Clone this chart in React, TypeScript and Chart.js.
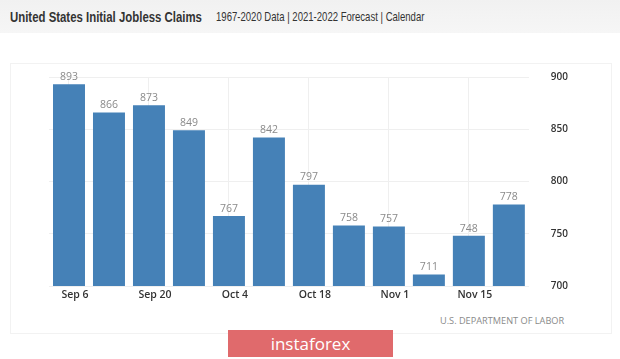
import React, { useEffect, useRef } from "react";
import { Chart, registerables } from "chart.js";

Chart.register(...registerables);

const weeks = ["Sep 6", "Sep 13", "Sep 20", "Sep 27", "Oct 4", "Oct 11", "Oct 18", "Oct 25", "Nov 1", "Nov 8", "Nov 15", "Nov 22"];
const claims = [893, 866, 873, 849, 767, 842, 797, 758, 757, 711, 748, 778];
const yTicks = [700, 750, 800, 850, 900];

const valueLabels = {
  id: "valueLabels",
  afterDatasetsDraw(chart: any) {
    const ctx = chart.ctx;
    const meta = chart.getDatasetMeta(0);
    ctx.save();
    ctx.fillStyle = "#8a8a8a";
    ctx.font = "10.5px 'Open Sans'";
    ctx.textAlign = "center";
    ctx.textBaseline = "bottom";
    meta.data.forEach((bar: any, i: number) => {
      ctx.fillText(String(claims[i]), bar.x, bar.y - 2);
    });
    ctx.restore();
  },
};

export default function App() {
  const ref = useRef<HTMLCanvasElement>(null);
  useEffect(() => {
    document.body.style.margin = "0";
    const chart = new Chart(ref.current!, {
      type: "bar",
      data: {
        labels: weeks,
        datasets: [
          {
            data: claims,
            backgroundColor: "#4581b7",
            categoryPercentage: 0.8,
            barPercentage: 1,
          },
        ],
      },
      options: {
        animation: false,
        responsive: false,
        layout: { padding: { left: 49, right: 30, top: 37, bottom: 0 } },
        plugins: { legend: { display: false }, tooltip: { enabled: false } },
        scales: {
          x: {
            grid: {
              offset: false,
              drawTicks: false,
              color: (c: any) => (c.index % 2 === 0 ? "#efefef" : "rgba(0,0,0,0)"),
            },
            border: { display: false },
            ticks: {
              autoSkip: false,
              maxRotation: 0,
              padding: 3,
              labelOffset: 6,
              color: "#333",
              font: { family: "'Open Sans'", size: 10.5, weight: "600" },
              callback: (v: any, i: number) => (i % 2 === 0 ? weeks[i] : ""),
            },
          },
          y: {
            position: "right",
            min: 700,
            max: 900,
            afterBuildTicks: (axis: any) => {
              axis.ticks = yTicks.map((v) => ({ value: v }));
            },
            grid: { drawTicks: false, color: "#efefef" },
            border: { display: false },
            ticks: {
              padding: 22,
              color: "#333",
              font: { family: "'Open Sans'", size: 10, weight: "600" },
            },
          },
        },
      },
      plugins: [valueLabels],
    });
    return () => chart.destroy();
  }, []);

  return (
    <div style={{ position: "relative", width: 620, height: 359, background: "#fff", overflow: "hidden" }}>
      <div
        style={{
          position: "absolute",
          left: 0,
          top: 0,
          width: 620,
          height: 33,
          background: "linear-gradient(#f1f1f1, #f6f6f6)",
        }}
      />
      <div
        style={{
          position: "absolute",
          left: 10,
          top: 8,
          fontFamily: "'Liberation Sans', Arial, sans-serif",
          fontWeight: "bold",
          fontSize: 15,
          color: "#333",
          whiteSpace: "nowrap",
          transform: "scaleX(0.76)",
          transformOrigin: "left top",
        }}
      >
        United States Initial Jobless Claims
      </div>
      <div
        style={{
          position: "absolute",
          left: 216,
          top: 9,
          fontFamily: "'Liberation Sans', Arial, sans-serif",
          fontSize: 13,
          color: "#333",
          whiteSpace: "nowrap",
          transform: "scaleX(0.735)",
          transformOrigin: "left top",
        }}
      >
        1967-2020 Data | 2021-2022 Forecast | Calendar
      </div>
      <div
        style={{
          position: "absolute",
          left: 10,
          top: 63,
          width: 602,
          height: 271,
          border: "1px solid #f2f2f2",
          boxSizing: "border-box",
        }}
      />
      <canvas ref={ref} width={620} height={274} style={{ position: "absolute", left: 0, top: 40 }} />
      <div
        style={{
          position: "absolute",
          left: 440,
          top: 314,
          fontFamily: "'Open Sans', sans-serif",
          fontSize: 9.2,
          color: "#8a8a8a",
          whiteSpace: "nowrap",
        }}
      >
        U.S. DEPARTMENT OF LABOR
      </div>
      <div
        style={{
          position: "absolute",
          left: 228,
          top: 330,
          width: 165,
          height: 27,
          background: "#e06a6c",
          color: "#fff",
          fontFamily: "'Open Sans', sans-serif",
          fontSize: 17,
          lineHeight: "27px",
          textAlign: "center",
        }}
      >
        instaforex
      </div>
    </div>
  );
}
